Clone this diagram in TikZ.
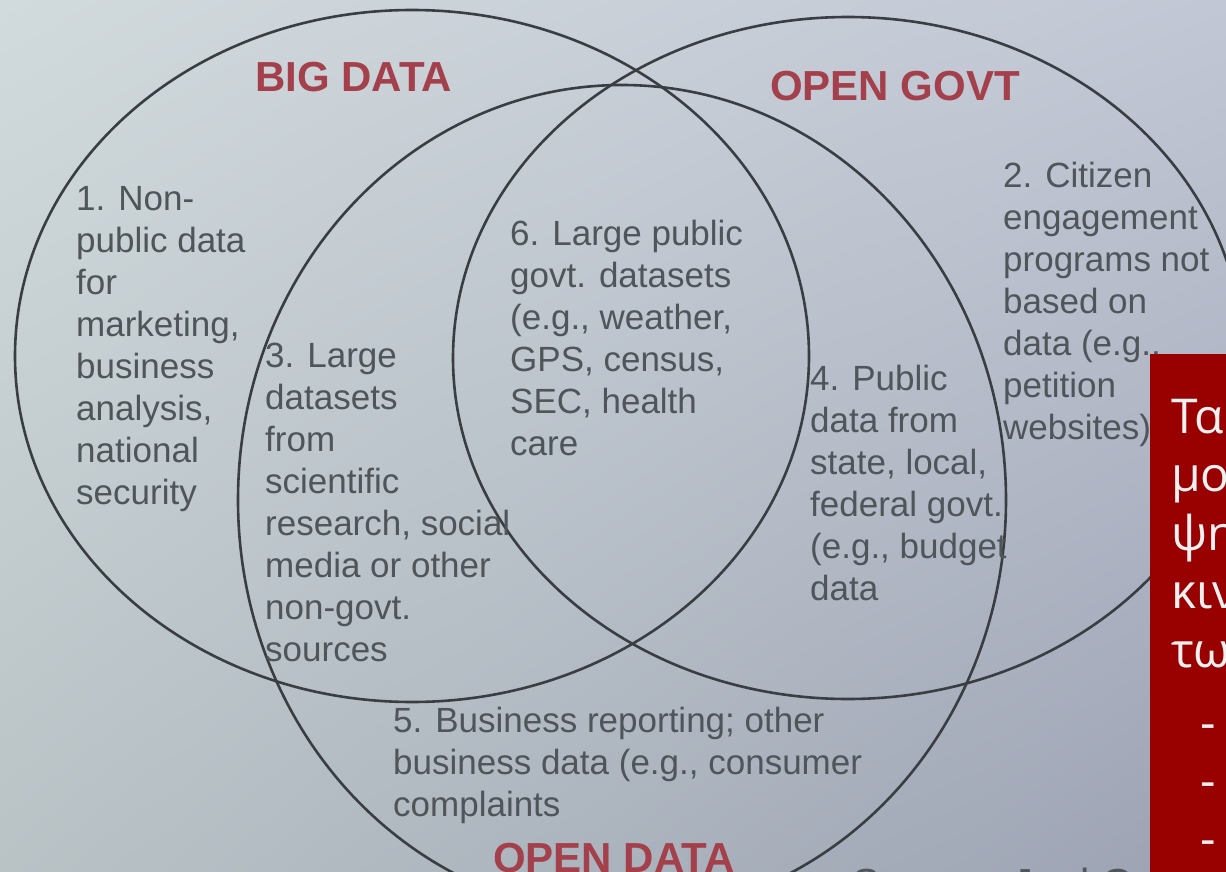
\documentclass[tikz,border=0pt]{standalone}
\usepackage{fontspec}
\setmainfont{Liberation Sans}
\newfontfamily\greekfont{Open Sans}
\usetikzlibrary{shapes.geometric, shadings}

\definecolor{bgTL}{HTML}{D1DADC}
\definecolor{bgTR}{HTML}{C2C7D5}
\definecolor{bgBL}{HTML}{B9C3C6}
\definecolor{bgBR}{HTML}{9CA2B3}
\definecolor{ringcol}{HTML}{3A3E42}
\definecolor{txtcol}{HTML}{4F5559}
\definecolor{titlecol}{HTML}{A3404B}
\definecolor{boxred}{HTML}{990000}

\begin{document}
\begin{tikzpicture}[x=1pt, y=-1pt,
            % Style for the three set outlines
            venn/.style={ellipse, draw=ringcol, line width=2.6pt, inner sep=0pt},
            % Style for the texts inside the regions (placed at the baseline of the last line)
            region/.style={text=txtcol, font=\fontsize{35}{42}\selectfont, align=left, inner sep=0pt, anchor=base west},
            % Style for the set names
            title/.style={text=titlecol, font=\fontsize{42}{42}\selectfont\bfseries, inner sep=0pt, anchor=base west},
            % Style for the text on the red panel
            panel/.style={text=white!94!black, font=\greekfont\fontsize{48}{58.5}\selectfont, align=left, inner sep=0pt, anchor=base west}
        ]
        \useasboundingbox (0,0) rectangle (1226,872);
        \clip (0,0) rectangle (1226,872);

        % --- Background of the slide ---
        \shade[upper left=bgTL, upper right=bgTR, lower left=bgBL, lower right=bgBR] (0,0) rectangle (1226,872);

        % --- The three sets ---
        \node[venn, minimum width=794pt, minimum height=692pt] (bigdata) at (412,356) {};
        \node[venn, minimum width=790pt, minimum height=682pt] (opengovt) at (848,358) {};
        \node[venn, minimum width=768pt, minimum height=830pt] (opendata) at (622,500) {};

        % Set names
        \node[title] (bigtitle) at (255,92) {BIG DATA};
        \node[title] (govtitle) at (770,101) {OPEN GOVT};
        \node[title] (datatitle) at (493,872) {OPEN DATA};

        % --- Texts of the regions ---
        \node[region] (nonpublic) at (76,504) {1. Non-\\public data\\for\\marketing,\\business\\analysis,\\national\\security};
        \node[region] (citizen) at (1003,439) {2. Citizen\\engagement\\programs not\\based on\\data (e.g.,\\petition\\websites)};
        \node[region] (largesets) at (265,661) {3. Large\\datasets\\from\\scientific\\research, social\\media or other\\non-govt.\\sources};
        \node[region] (publicdata) at (810,600) {4. Public\\data from\\state, local,\\federal govt.\\(e.g., budget\\data};
        \node[region] (business) at (393,816) {5. Business reporting; other\\business data (e.g., consumer\\complaints};
        \node[region] (largepublic) at (510,455) {6. Large public\\govt. datasets\\(e.g., weather,\\GPS, census,\\SEC, health\\care};

        % Source line, cut by the lower edge
        \node[region, font=\fontsize{42}{42}\selectfont] (source) at (852,898) {Source: Joel Gurin};

        % --- Red panel on the right ---
        \node[fill=boxred, inner sep=0pt, minimum width=100pt, minimum height=530pt, anchor=north west] (redbox) at (1150,354) {};
        \node[panel] (paneltext) at (1171,667) {Τα\\μον\\ψη\\κιν\\τω};
        \foreach \y in {739,797,855} {
            \node[panel] at (1200,\y) {-};
        }

        \end{tikzpicture}
\end{document}
